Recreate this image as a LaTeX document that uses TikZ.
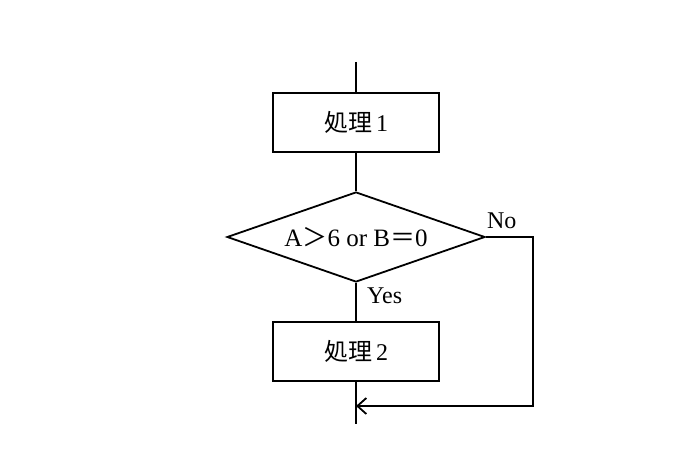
\documentclass[tikz,border=0pt]{standalone}
\usepackage{fontspec}
\setmainfont{Liberation Serif}
\newfontfamily\cjk{Noto Sans CJK JP}
\usetikzlibrary{shapes.geometric,arrows.meta}
\begin{document}
\begin{tikzpicture}[x=1pt,y=-1pt,
  line/.style={line width=1.8pt,black},
  procbox/.style={draw,line width=1.8pt,minimum width=166pt,minimum height=59pt,inner sep=0pt,font=\fontsize{24}{27}\selectfont},
  decision/.style={draw,line width=1.8pt,diamond,aspect=2.85,minimum width=258pt,minimum height=90pt,inner sep=0pt,font=\fontsize{25}{28}\selectfont},
  lbl/.style={inner sep=0pt,font=\fontsize{24}{27}\selectfont}]
\useasboundingbox (0,0) rectangle (700,470);
\coordinate (top) at (356,62);
\node[procbox] (p1) at (356,122.5) {{\cjk 処理}\,1};
\node[decision] (d) at (356,237) {A{\cjk ＞}6 or B{\cjk ＝}0};
\node[procbox] (p2) at (356,351.5) {{\cjk 処理}\,2};
\coordinate (bot) at (356,424);
\coordinate (corner) at (533,406);
\coordinate (join) at (356,406);
\draw[line] (top) -- (p1.north);
\draw[line] (p1.south) -- (d.north);
\draw[line] (d.south) -- (p2.north);
\draw[line] (p2.south) -- (bot);
\draw[line,-{Straight Barb[length=9pt,width=16pt,line width=1.8pt]}] (d.east) -| (corner) -- (join);
\node[lbl,anchor=base west] (no) at ([xshift=1pt,yshift=9pt]d.east) {No};
\node[lbl,anchor=base west] (yes) at ([xshift=11pt,yshift=-21pt]d.south) {Yes};
\end{tikzpicture}
\end{document}
